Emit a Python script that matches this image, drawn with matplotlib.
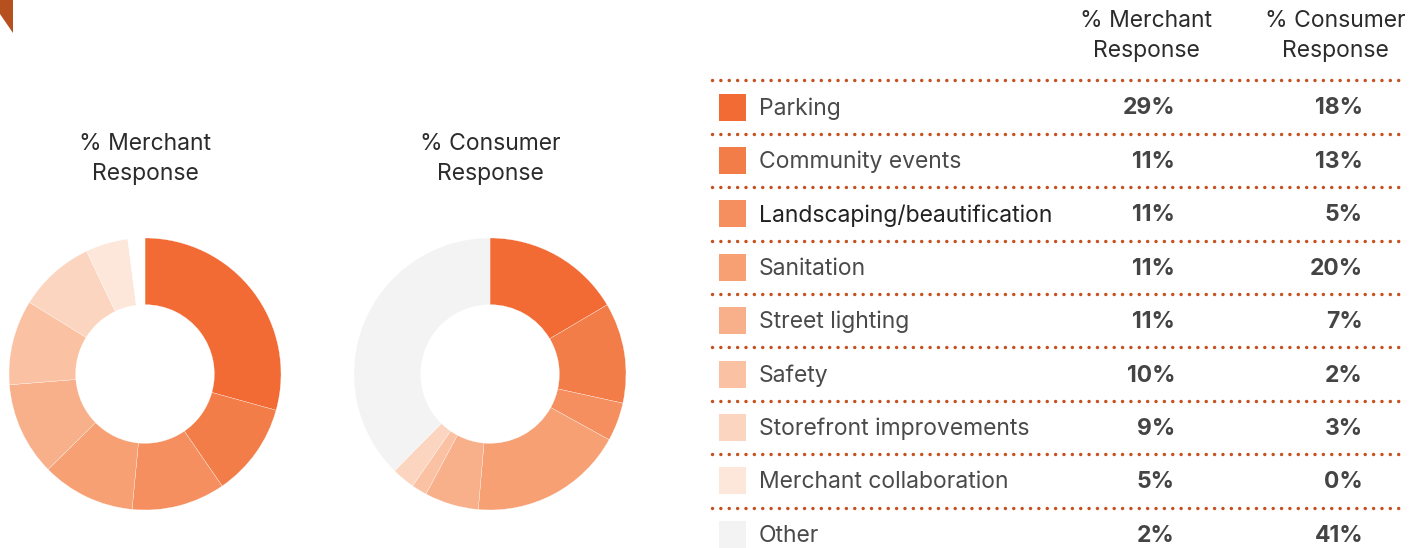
import matplotlib
matplotlib.use("Agg")
import matplotlib.pyplot as plt
from matplotlib.patches import Polygon, Rectangle

# Survey categories and shares (percent)
categories = [
    "Parking",
    "Community events",
    "Landscaping/beautification",
    "Sanitation",
    "Street lighting",
    "Safety",
    "Storefront improvements",
    "Merchant collaboration",
    "Other",
]
merchant_pct = [29, 11, 11, 11, 11, 10, 9, 5, 2]
consumer_pct = [18, 13, 5, 20, 7, 2, 3, 0, 41]

colors = [
    "#F26A34", "#F37D48", "#F58F5F", "#F6A074", "#F8B08A",
    "#FAC1A2", "#FBD5BF", "#FDE7DB", "#F3F3F3",
]
# the merchant ring leaves its "Other" share blank
merchant_colors = colors[:-1] + ["#FFFFFF"]

col_headers = ["% Merchant\nResponse", "% Consumer\nResponse"]

W, H = 1424, 548
fig = plt.figure(figsize=(W / 100, H / 100), dpi=100)
plt.rcParams["font.family"] = ["Inter", "DejaVu Sans"]

FS = 16.5
TXT = "#2b2b2b"

# full-figure overlay in pixel units for the table and titles
ov = fig.add_axes([0, 0, 1, 1])
ov.set_xlim(0, W)
ov.set_ylim(H, 0)
ov.axis("off")

# corner ribbon
ov.add_patch(Polygon([(0, 0), (13, 0), (13, 33), (0, 14)], closed=True,
                     facecolor="#B6501F", edgecolor="none"))


def donut(cx, cy, r, values, cols, title):
    ax = fig.add_axes([(cx - r) / W, (H - cy - r) / H, 2 * r / W, 2 * r / H])
    ax.pie(values, colors=cols, startangle=90, counterclock=False,
           wedgeprops=dict(width=0.49, edgecolor="white", linewidth=0.2))
    ax.set_xlim(-1, 1)
    ax.set_ylim(-1, 1)
    ax.set_aspect("equal")
    ov.text(cx, 159, title, ha="center", va="center", fontsize=FS,
            color=TXT, linespacing=1.45)


donut(145, 374, 136, merchant_pct, merchant_colors, "% Merchant\nResponse")
donut(490, 374, 136, consumer_pct, colors, "% Consumer\nResponse")

# table
row0, row_h = 107, 53.4
x_left, x_right = 712, 1405
x_sq, sq = 719, 27
x_lbl = 759
x_m, x_c = 1175, 1363
dot_color = "#C4511F"

ov.text(1146, 36, col_headers[0], ha="center", va="center", fontsize=FS,
        color=TXT, linespacing=1.45)
ov.text(1335, 36, col_headers[1], ha="center", va="center", fontsize=FS,
        color=TXT, linespacing=1.45)

for i, (cat, m, c, col) in enumerate(zip(categories, merchant_pct, consumer_pct, colors)):
    y = row0 + i * row_h
    yl = y - row_h / 2
    ov.plot([x_left, x_right], [yl, yl], color=dot_color, lw=2.5,
            linestyle=(0, (0.01, 2.4)), dash_capstyle="round", solid_capstyle="round")
    ov.add_patch(Rectangle((x_sq, y - sq / 2), sq, sq, facecolor=col, edgecolor="none"))
    lbl_color = "#222222" if cat.startswith("Landscaping") else "#4a4a4a"
    ov.text(x_lbl, y + 1.5, cat, ha="left", va="center", fontsize=FS, color=lbl_color)
    ov.text(x_m, y + 1.5, f"{m}%", ha="right", va="center", fontsize=FS,
            fontweight="bold", color="#444444")
    ov.text(x_c, y + 1.5, f"{c}%", ha="right", va="center", fontsize=FS,
            fontweight="bold", color="#444444")

fig.savefig("out.png", dpi=100, facecolor="white")
